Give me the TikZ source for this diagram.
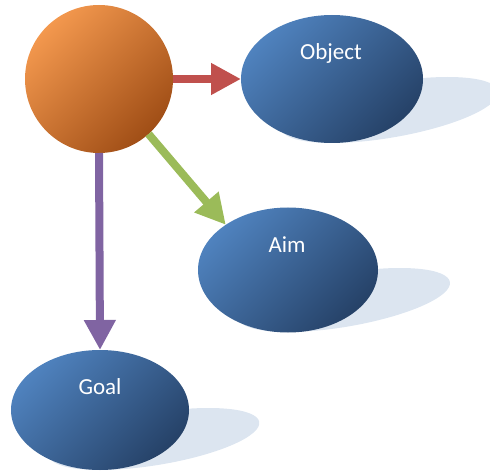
\documentclass[tikz,border=0pt]{standalone}
\usepackage{fontspec}
\setmainfont{Carlito}
\usetikzlibrary{shapes.geometric,arrows.meta}
\definecolor{blueL}{RGB}{79,130,190}
\definecolor{blueD}{RGB}{38,66,104}
\definecolor{orL}{RGB}{243,152,78}
\definecolor{orD}{RGB}{160,78,22}
\definecolor{shadowc}{RGB}{220,229,240}
\definecolor{redA}{RGB}{192,80,77}
\definecolor{greenA}{RGB}{155,187,89}
\definecolor{purpleA}{RGB}{128,100,162}
\tikzset{
  blob/.style={ellipse, inner sep=0pt, outer sep=0pt, minimum width=180pt, minimum height=125pt,
    top color=blueL, bottom color=blueD, shading angle=45},
  hubstyle/.style={circle, inner sep=0pt, outer sep=0pt, minimum size=148pt,
    top color=orL, bottom color=orD, shading angle=45},
  lbl/.style={text=white, font=\fontsize{23}{27}\selectfont, inner sep=0pt},
  fat/.style={line width=8pt, -{Triangle[width=30pt,length=30pt]}},
  shadowe/.style={fill=shadowc}
}
\begin{document}
\begin{tikzpicture}[x=1pt,y=-1pt]
\useasboundingbox (0,0) rectangle (490,473);
% shadows
\begin{scope}[shift={(332,143)}]
  \fill[shadowe, xslant=1.75] (0pt,33pt) ellipse (92pt and 33pt);
\end{scope}
\begin{scope}[shift={(288,332)}]
  \fill[shadowe, xslant=1.75] (0pt,32pt) ellipse (90pt and 32pt);
\end{scope}
\begin{scope}[shift={(100,470)}]
  \fill[shadowe, xslant=1.75] (0pt,31pt) ellipse (90pt and 31pt);
\end{scope}
% nodes
\node[hubstyle] (hub) at (99,79) {};
\node[blob, minimum width=182pt, minimum height=128pt] (obj) at (332,79) {};
\node[blob, minimum width=180pt, minimum height=125pt] (aim) at (288,270) {};
\node[blob, minimum width=178pt, minimum height=120pt] (goal) at (100,410) {};
\node[lbl] (objt) at (331,53) {Object};
\node[lbl] (aimt) at (287,245) {Aim};
\node[lbl] (goalt) at (100,387) {Goal};
% arrows
\draw[fat, redA] (hub.east) -- (obj.west);
\draw[fat, greenA] (hub.-48) -- (aim.144);
\draw[fat, purpleA] (hub.south) -- (goal.north);
\end{tikzpicture}
\end{document}
